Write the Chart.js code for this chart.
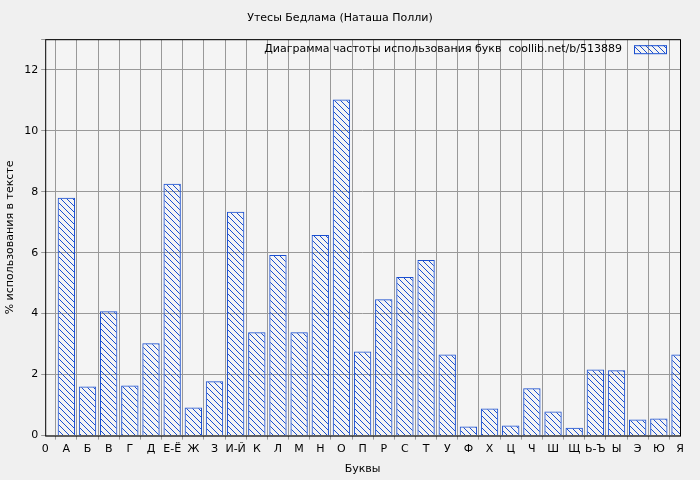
<!DOCTYPE html><html><head><meta charset="utf-8">
<script src="https://cdn.jsdelivr.net/npm/chart.js@4"></script>
<style>body{margin:0;background:#f0f0f0}#w{width:700px;height:480px}</style></head><body>
<div id="w"><canvas id="c"></canvas></div>
<script>
const tickLabels=['0','А','Б','В','Г','Д','Е-Ё','Ж','З','И-Й','К','Л','М','Н','О','П','Р','С','Т','У','Ф','Х','Ц','Ч','Ш','Щ','Ь-Ъ','Ы','Э','Ю','Я'];
const values=[7.8,1.61,4.08,1.64,3.03,8.26,0.92,1.78,7.34,3.39,5.92,3.39,6.58,11.02,2.76,4.47,5.2,5.76,2.66,0.3,0.89,0.33,1.55,0.79,0.26,2.17,2.14,0.53,0.56,2.66];
const seriesName='Диаграмма частоты использования букв  coollib.net/b/513889';
const blue='#1a4fd0';
function hatch(){const p=document.createElement('canvas');p.width=6;p.height=6;const g=p.getContext('2d');
g.strokeStyle=blue;g.lineWidth=1;g.beginPath();g.moveTo(-1,-1);g.lineTo(7,7);g.moveTo(-1,5);g.lineTo(1,7);g.moveTo(5,-1);g.lineTo(7,1);g.stroke();
return document.getElementById('c').getContext('2d').createPattern(p,'repeat');}
const pat=hatch();
const bg={id:'bg',beforeDraw(ch){const a=ch.chartArea,x=ch.ctx;x.save();x.fillStyle='#f0f0f0';x.fillRect(0,0,ch.width,ch.height);x.fillStyle='#f4f4f4';x.fillRect(a.left,a.top,a.right-a.left,a.bottom-a.top);x.restore();},
afterDraw(ch){const a=ch.chartArea,x=ch.ctx;x.save();x.strokeStyle='#000';x.lineWidth=1;x.strokeRect(a.left+0.5,a.top+0.5,a.right-a.left,a.bottom-a.top);
x.font='11px "DejaVu Sans"';x.fillStyle='#000';x.textAlign='right';x.textBaseline='middle';x.fillText(seriesName,a.right-58,a.top+10);
x.fillStyle=pat;x.fillRect(a.right-46,a.top+6,32,8);x.strokeStyle=blue;x.strokeRect(a.right-45.5,a.top+6.5,32,8);x.restore();}};
new Chart('c',{type:'bar',data:{datasets:[{label:seriesName,data:values.map((v,i)=>({x:i+1,y:v})),backgroundColor:pat,borderColor:blue,borderWidth:1,barPercentage:0.82,categoryPercentage:1}]},
options:{responsive:true,maintainAspectRatio:false,animation:false,layout:{padding:{right:20,top:0,left:0,bottom:0}},
plugins:{legend:{display:false},title:{display:true,text:'Утесы Бедлама (Наташа Полли)',color:'#000',font:{family:'DejaVu Sans',size:11,weight:'normal'},padding:{top:12,bottom:14}}},
scales:{x:{type:'linear',min:0,max:30,offset:false,ticks:{stepSize:1,autoSkip:false,maxRotation:0,color:'#000',font:{family:'DejaVu Sans',size:11},callback:v=>tickLabels[v]},grid:{color:'#999',borderDash:[2,2],drawTicks:true,tickLength:4},border:{display:false},title:{display:true,text:'Буквы',color:'#000',font:{family:'DejaVu Sans',size:11}}},
y:{min:0,max:13,ticks:{stepSize:2,color:'#000',font:{family:'DejaVu Sans',size:11},callback:v=>v%2===0?v:''},grid:{color:'#999',borderDash:[2,2],tickLength:4},border:{display:false},title:{display:true,text:'% использования в тексте',color:'#000',font:{family:'DejaVu Sans',size:11}}}}},
plugins:[bg]});
</script></body></html>
